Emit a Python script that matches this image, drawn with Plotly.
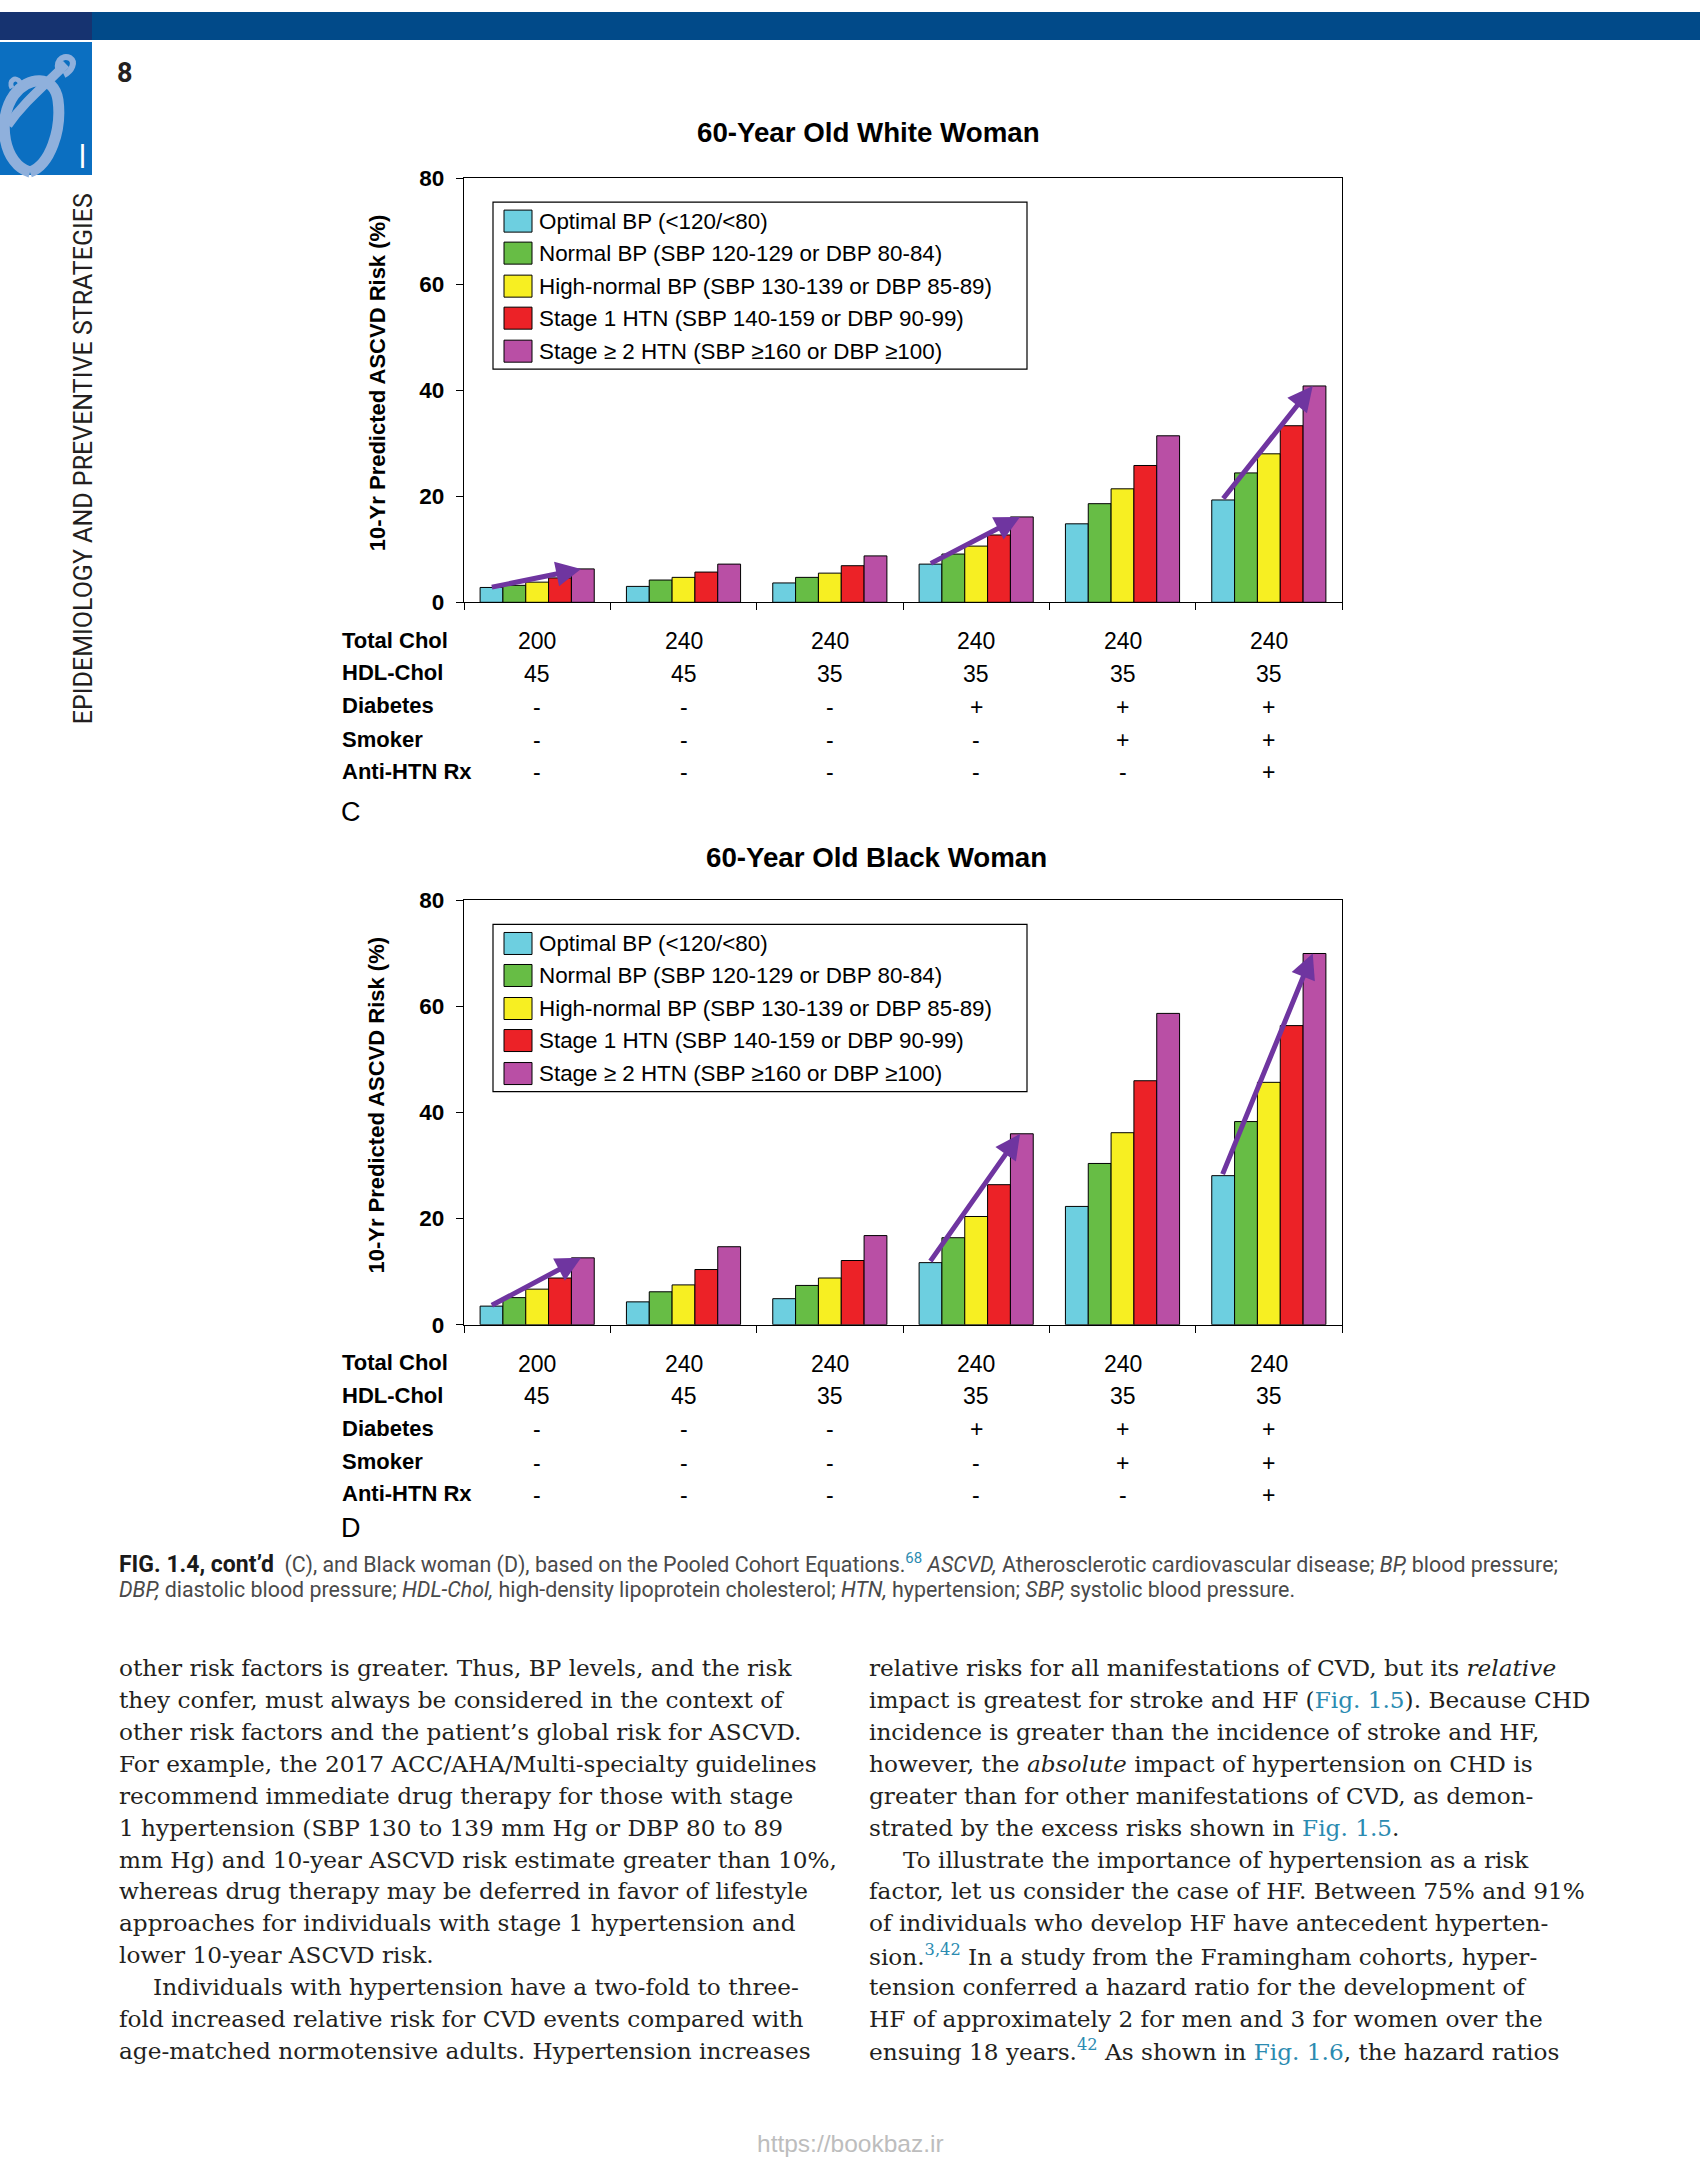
import re
import plotly.graph_objects as go

W = 1700
FIG_H = 2175
TOP = 12          # observed vertical offset of the figure in the photographed page
VS = 0.988        # observed vertical scale of the figure in the photographed page


def px(x):
    return x / W


def py(y):
    return 1 - ((y - TOP) / VS) / FIG_H


def P(s):
    toks = s.split()
    out = []
    nums = []
    for t in toks:
        if re.fullmatch(r"[A-Za-z]", t):
            out.append(t)
        else:
            nums.append(float(t))
            if len(nums) == 2:
                out.append("%.5f,%.5f" % (px(nums[0]), py(nums[1])))
                nums = []
    return " ".join(out)


# ---------------- data ----------------
groups = [0, 1, 2, 3, 4, 5]
series_names = [
    "Optimal BP (&lt;120/&lt;80)",
    "Normal BP (SBP 120-129 or DBP 80-84)",
    "High-normal BP (SBP 130-139 or DBP 85-89)",
    "Stage 1 HTN (SBP 140-159 or DBP 90-99)",
    "Stage \u2265 2 HTN (SBP \u2265160 or DBP \u2265100)",
]
colors = ["#6DCFE0", "#67BD45", "#F7EF22", "#EC2227", "#B94FA5"]

white_optimal = [2.8, 3.0, 3.65, 7.2, 14.8, 19.3]
white_normal = [3.2, 4.2, 4.7, 9.1, 18.6, 24.4]
white_highnormal = [3.8, 4.7, 5.5, 10.6, 21.4, 28.0]
white_stage1 = [4.6, 5.7, 6.9, 12.7, 25.8, 33.3]
white_stage2 = [6.3, 7.2, 8.75, 16.1, 31.4, 40.8]

black_optimal = [3.5, 4.3, 4.9, 11.7, 22.3, 28.1]
black_normal = [5.1, 6.2, 7.4, 16.4, 30.4, 38.3]
black_highnormal = [6.7, 7.5, 8.8, 20.4, 36.2, 45.7]
black_stage1 = [8.8, 10.4, 12.1, 26.4, 46.0, 56.4]
black_stage2 = [12.6, 14.7, 16.8, 36.0, 58.7, 70.0]

arrow_groups = [0, 3, 5]

row_labels = ["Total Chol", "HDL-Chol", "Diabetes", "Smoker", "Anti-HTN Rx"]
total_chol = ["200", "240", "240", "240", "240", "240"]
hdl_chol = ["45", "45", "35", "35", "35", "35"]
diabetes = ["-", "-", "-", "+", "+", "+"]
smoker = ["-", "-", "-", "-", "+", "+"]
anti_htn = ["-", "-", "-", "-", "-", "+"]

y_ticks = [0, 20, 40, 60, 80]

chart_titles = ["60-Year Old White Woman", "60-Year Old Black Woman"]
panel_letters = ["C", "D"]

LINK = "#2b8bb1"
left_lines = [
    (0, "other risk factors is greater. Thus, BP levels, and the risk"),
    (0, "they confer, must always be considered in the context of"),
    (0, "other risk factors and the patient\u2019s global risk for ASCVD."),
    (0, "For example, the 2017 ACC/AHA/Multi-specialty guidelines"),
    (0, "recommend immediate drug therapy for those with stage"),
    (0, "1 hypertension (SBP 130 to 139 mm Hg or DBP 80 to 89"),
    (0, "mm Hg) and 10-year ASCVD risk estimate greater than 10%,"),
    (0, "whereas drug therapy may be deferred in favor of lifestyle"),
    (0, "approaches for individuals with stage 1 hypertension and"),
    (0, "lower 10-year ASCVD risk."),
    (1, "Individuals with hypertension have a two-fold to three-"),
    (0, "fold increased relative risk for CVD events compared with"),
    (0, "age-matched normotensive adults. Hypertension increases"),
]
right_lines = [
    (0, "relative risks for all manifestations of CVD, but its <i>relative</i>"),
    (0, "impact is greatest for stroke and HF (<span style='color:%s'>Fig. 1.5</span>). Because CHD" % LINK),
    (0, "incidence is greater than the incidence of stroke and HF,"),
    (0, "however, the <i>absolute</i> impact of hypertension on CHD is"),
    (0, "greater than for other manifestations of CVD, as demon-"),
    (0, "strated by the excess risks shown in <span style='color:%s'>Fig. 1.5</span>." % LINK),
    (1, "To illustrate the importance of hypertension as a risk"),
    (0, "factor, let us consider the case of HF. Between 75% and 91%"),
    (0, "of individuals who develop HF have antecedent hyperten-"),
    (0, "sion.<sup><span style='color:%s'>3,42</span></sup> In a study from the Framingham cohorts, hyper-" % LINK),
    (0, "tension conferred a hazard ratio for the development of"),
    (0, "HF of approximately 2 for men and 3 for women over the"),
    (0, "ensuing 18 years.<sup><span style='color:%s'>42</span></sup> As shown in <span style='color:%s'>Fig. 1.6</span>, the hazard ratios" % (LINK, LINK)),
]

caption_lines = [
    "<span style='font-size:23px;color:#1a1a1a'><b>FIG. 1.4, cont\u2019d</b></span>  (C), and Black woman (D), based on the Pooled Cohort Equations.<sup><span style='color:%s'>68</span></sup> <i>ASCVD,</i> Atherosclerotic cardiovascular disease; <i>BP,</i> blood pressure;" % LINK,
    "<i>DBP,</i> diastolic blood pressure; <i>HDL-Chol,</i> high-density lipoprotein cholesterol; <i>HTN,</i> hypertension; <i>SBP,</i> systolic blood pressure.",
]

# ---------------- figure ----------------
SANS = "Liberation Sans"
fig = go.Figure()

charts = [
    dict(series=[white_optimal, white_normal, white_highnormal, white_stage1, white_stage2],
         dy=0, title_y=132, letter_y=812, xa="x", ya="y"),
    dict(series=[black_optimal, black_normal, black_highnormal, black_stage1, black_stage2],
         dy=722, title_y=857, letter_y=1527, xa="x2", ya="y2"),
]

X0, X1 = 464, 1342
shapes = []
annotations = []

for ci, ch in enumerate(charts):
    for si, vals in enumerate(ch["series"]):
        fig.add_trace(go.Bar(
            x=groups, y=vals, name=series_names[si],
            marker=dict(color=colors[si], line=dict(color="black", width=1)),
            xaxis=ch["xa"], yaxis=ch["ya"], showlegend=False,
            offsetgroup=str(si),
        ))
    dy = ch["dy"]
    axis_common = dict(showline=True, mirror=True, linecolor="black", linewidth=1.3,
                       showgrid=False, zeroline=False, ticks="outside", ticklen=7,
                       tickcolor="black", tickwidth=1.3)
    xkey = "xaxis" if ci == 0 else "xaxis2"
    ykey = "yaxis" if ci == 0 else "yaxis2"
    fig.update_layout({
        xkey: dict(domain=[px(X0), px(X1)], range=[-0.5, 5.5],
                   tickvals=[g - 0.5 for g in groups] + [5.5], showticklabels=False,
                   anchor=ch["ya"], **axis_common),
        ykey: dict(domain=[py(602 + dy), py(178 + dy)], range=[0, 80], tickvals=y_ticks,
                   tickfont=dict(family=SANS, size=22.5, color="black", weight="bold"),
                   ticklabelstandoff=7, anchor=ch["xa"], **axis_common),
    })
    # title
    annotations.append(dict(text="<b>%s</b>" % chart_titles[ci], xref="paper", yref="paper",
                            x=px(868 + 8 * ci), y=py(ch["title_y"]), xanchor="center", yanchor="middle",
                            showarrow=False, font=dict(family=SANS, size=27.7, color="black")))
    # y title
    annotations.append(dict(text="<b>10-Yr Predicted ASCVD Risk (%)</b>", xref="paper", yref="paper",
                            x=px(377), y=py(383 + dy), textangle=-90, xanchor="center", yanchor="middle",
                            showarrow=False, font=dict(family=SANS, size=22, color="black")))
    # legend box
    shapes.append(dict(type="rect", xref="paper", yref="paper", x0=px(493), x1=px(1027),
                       y0=py(369 + dy), y1=py(202 + dy), fillcolor="white",
                       line=dict(color="black", width=1.2), layer="above"))
    row_y = [221, 253, 286, 318, 351]
    for si in range(5):
        yc = row_y[si] + dy
        shapes.append(dict(type="rect", xref="paper", yref="paper", x0=px(504), x1=px(532),
                           y0=py(yc + 11), y1=py(yc - 11), fillcolor=colors[si],
                           line=dict(color="black", width=1), layer="above"))
        annotations.append(dict(text=series_names[si], xref="paper", yref="paper",
                                x=px(537), y=py(yc), xanchor="left", yanchor="middle",
                                showarrow=False, font=dict(family=SANS, size=22.4, color="black")))
    # arrows
    opt = ch["series"][0]
    st2 = ch["series"][4]
    for g in arrow_groups:
        annotations.append(dict(x=g + 0.30, y=st2[g], ax=g - 0.32, ay=opt[g],
                                xref=ch["xa"], yref=ch["ya"], axref=ch["xa"], ayref=ch["ya"],
                                text="", showarrow=True, arrowhead=2, arrowsize=1.0,
                                arrowwidth=5, arrowcolor="#6F35A0", standoff=0, startstandoff=0))
    # table
    table_rows = [total_chol, hdl_chol, diabetes, smoker, anti_htn]
    table_y = [640, 672.5, 705.5, 739, 771]
    for ri, row in enumerate(table_rows):
        yy = table_y[ri] + dy
        annotations.append(dict(text="<b>%s</b>" % row_labels[ri], xref="paper", yref="paper",
                                x=px(340), y=py(yy), xanchor="left", yanchor="middle",
                                showarrow=False, font=dict(family=SANS, size=22, color="black")))
        for g in groups:
            annotations.append(dict(text=row[g], xref=ch["xa"], yref="paper",
                                    x=g, y=py(yy + 1), xanchor="center", yanchor="middle",
                                    showarrow=False, font=dict(family=SANS, size=23, color="black")))
    annotations.append(dict(text=panel_letters[ci], xref="paper", yref="paper",
                            x=px(339), y=py(ch["letter_y"]), xanchor="left", yanchor="middle",
                            showarrow=False, font=dict(family=SANS, size=27, color="black")))

# ---------------- page decorations ----------------
shapes += [
    dict(type="rect", xref="paper", yref="paper", x0=0, x1=1, y0=py(40), y1=1,
         fillcolor="#014a89", line=dict(width=0), layer="below"),
    dict(type="rect", xref="paper", yref="paper", x0=0, x1=px(92), y0=py(40), y1=1,
         fillcolor="#163370", line=dict(width=0), layer="below"),
    dict(type="rect", xref="paper", yref="paper", x0=0, x1=px(92), y0=py(175), y1=py(42),
         fillcolor="#0b6fc1", line=dict(width=0), layer="below"),
    dict(type="path", xref="paper", yref="paper",
         path=P("M 30 172 C 4 165 -4 120 14 95 C 28 76 54 74 58 100 C 62 130 50 165 30 172"),
         line=dict(color="#8fb0dc", width=11), layer="below"),
    dict(type="path", xref="paper", yref="paper",
         path=P("M 8 125 C 24 102 44 86 66 64"),
         line=dict(color="#8fb0dc", width=9), layer="below"),
    dict(type="path", xref="paper", yref="paper",
         path=P("M 60 74 C 54 62 62 54 70 58 C 76 62 72 71 64 75"),
         line=dict(color="#8fb0dc", width=6), layer="below"),
    dict(type="path", xref="paper", yref="paper",
         path=P("M 12 88 C 8 80 16 76 20 82 C 23 88 18 94 12 92"),
         line=dict(color="#8fb0dc", width=5), layer="below"),
]

annotations += [
    dict(text="I", xref="paper", yref="paper", x=px(82), y=py(155), xanchor="center", yanchor="middle",
         showarrow=False, font=dict(family="Open Sans", size=32, color="white")),
    dict(text="<b>8</b>", xref="paper", yref="paper", x=px(125), y=py(73), xanchor="center", yanchor="middle",
         showarrow=False, font=dict(family="Roboto", size=27, color="#231f20")),
    dict(text="EPIDEMIOLOGY AND PREVENTIVE STRATEGIES", xref="paper", yref="paper",
         x=px(83), y=py(459), textangle=-90, xanchor="center", yanchor="middle",
         showarrow=False, font=dict(family="Roboto", size=25, color="#231f20")),
    dict(text="https://bookbaz.ir", xref="paper", yref="paper", x=px(850), y=py(2142),
         xanchor="center", yanchor="middle", showarrow=False,
         font=dict(family=SANS, size=24.5, color="#bdbdbd")),
]

cap_y = [1563, 1589]
for i, t in enumerate(caption_lines):
    annotations.append(dict(text=t, xref="paper", yref="paper", x=px(117), y=py(cap_y[i]),
                            xanchor="left", yanchor="middle", showarrow=False,
                            font=dict(family="Roboto", size=21.4, color="#4a4a4a")))

line_y0, line_dy = 1667, 31.85
for col_x, lines in [(117, left_lines), (867, right_lines)]:
    for i, (indent, t) in enumerate(lines):
        annotations.append(dict(text=t, xref="paper", yref="paper", x=px(col_x + 34 * indent),
                                y=py(line_y0 + i * line_dy), xanchor="left", yanchor="middle",
                                showarrow=False, font=dict(family="DejaVu Serif", size=23.2, color="#231f20")))

fig.update_layout(
    width=W, height=FIG_H, margin=dict(l=0, r=0, t=0, b=0),
    paper_bgcolor="white", plot_bgcolor="white",
    barmode="group", bargap=0.22, bargroupgap=0,
    showlegend=False, shapes=shapes, annotations=annotations,
)

page_js = (
    "document.documentElement.style.margin='0px';"
    "document.documentElement.style.overflow='hidden';"
    "document.body.style.margin='0px';"
    "document.body.style.overflow='hidden';"
    "var gd=document.getElementsByClassName('plotly-graph-div')[0];"
    "gd.style.position='absolute';gd.style.left='0px';gd.style.top='0px';"
)

fig.write_html("out.html", config={"displayModeBar": False}, post_script=page_js)
